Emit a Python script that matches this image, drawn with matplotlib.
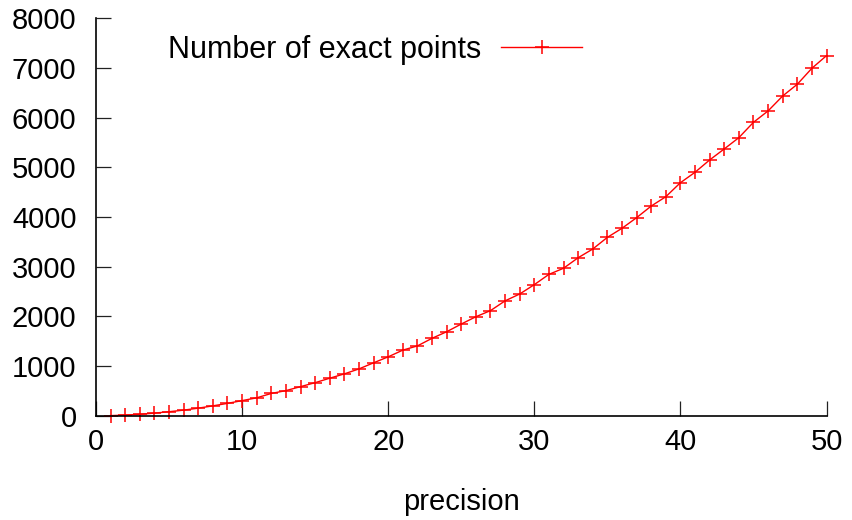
import matplotlib
matplotlib.use("Agg")
import matplotlib.pyplot as plt

plt.rcParams['font.family'] = ['Liberation Sans', 'DejaVu Sans']

precision = list(range(1, 51))
exact_points = [2, 12, 28, 52, 80, 112, 152, 198, 248, 304,
                360, 448, 505, 585, 665, 755, 842, 942, 1065, 1185,
                1320, 1405, 1558, 1690, 1845, 1992, 2115, 2312, 2450, 2638,
                2845, 2968, 3180, 3355, 3590, 3772, 3986, 4220, 4408, 4690,
                4900, 5148, 5370, 5597, 5906, 6135, 6436, 6672, 6994, 7248]
xticks = [0, 10, 20, 30, 40, 50]
yticks = [0, 1000, 2000, 3000, 4000, 5000, 6000, 7000, 8000]
series_label = "Number of exact points"
xlabel = "precision"

W, H = 852, 520
fig = plt.figure(figsize=(W / 100, H / 100), dpi=100)
ax = fig.add_axes([96 / W, 1 - 415.7 / H, (826.5 - 96) / W, (415.7 - 18.3) / H])

ax.plot(precision, exact_points, color='#ff0000', linewidth=1.0,
        marker='+', markersize=10.5, markeredgewidth=1.1, label=series_label,
        clip_on=False)

ax.set_xlim(0, 50)
ax.set_ylim(0, 8000)
ax.set_xticks(xticks)
ax.set_yticks(yticks)
ax.set_xticklabels([str(v) for v in xticks])
ax.set_yticklabels([str(v) for v in yticks])

for s in ['top', 'right']:
    ax.spines[s].set_visible(False)
for s in ['left', 'bottom']:
    ax.spines[s].set_linewidth(1.2)
    ax.spines[s].set_color('black')

ax.tick_params(axis='both', direction='in', length=10.5, width=0.9,
               color='#222222', labelsize=21, labelcolor='black')
ax.tick_params(axis='y', pad=14)
ax.tick_params(axis='x', pad=9)

ax.set_xlabel(xlabel, fontsize=21, labelpad=23)

leg = ax.legend(loc='center left', bbox_to_anchor=(168 / W, 1 - 50 / H),
                bbox_transform=fig.transFigure, frameon=False,
                markerfirst=False, fontsize=22, borderpad=0, borderaxespad=0,
                handlelength=2.65, handletextpad=0.65)

fig.savefig("out.png", dpi=100, facecolor='white')
